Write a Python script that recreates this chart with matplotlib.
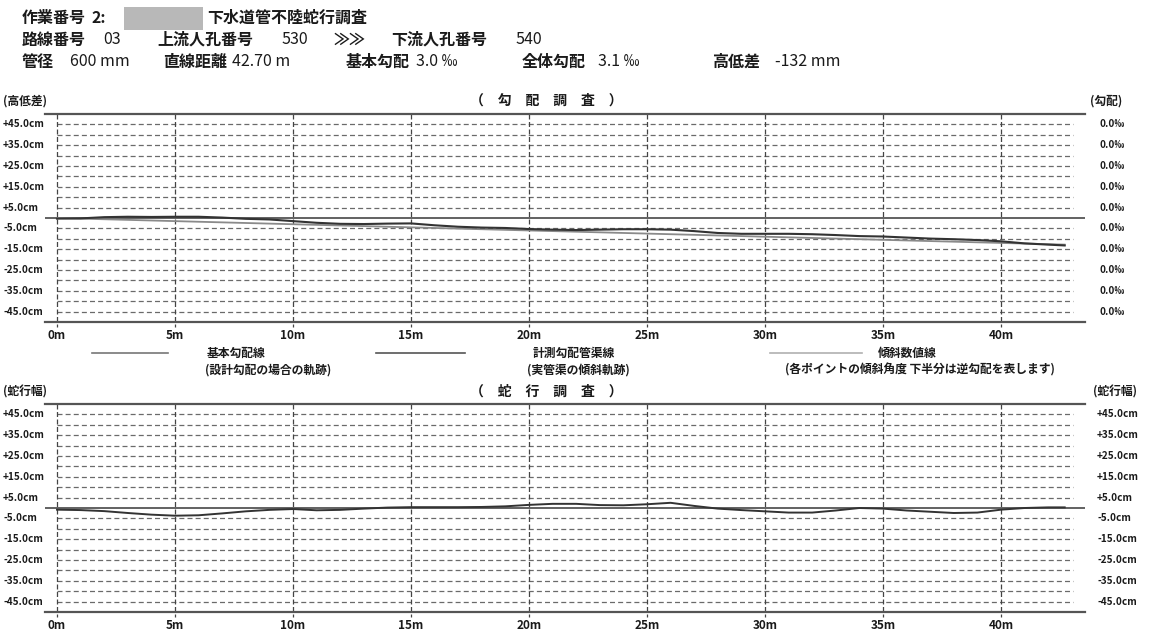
import matplotlib
matplotlib.use("Agg")
import matplotlib.pyplot as plt
from matplotlib.patches import Rectangle
from matplotlib.transforms import blended_transform_factory

plt.rcParams['font.family'] = ['Noto Sans CJK JP', 'DejaVu Sans']

# ---------------- data ----------------
x_ticks = [0, 5, 10, 15, 20, 25, 30, 35, 40]
x_tick_labels = ['0m', '5m', '10m', '15m', '20m', '25m', '30m', '35m', '40m']
y_label_vals = [45, 35, 25, 15, 5, -5, -15, -25, -35, -45]
y_labels_cm = ['+45.0cm', '+35.0cm', '+25.0cm', '+15.0cm', '+5.0cm',
               '-5.0cm', '-15.0cm', '-25.0cm', '-35.0cm', '-45.0cm']
slope_labels = ['0.0‰'] * 10
grid_y = [45, 40, 35, 30, 25, 20, 15, 10, 5, -5, -10, -15, -20, -25, -30, -35, -40, -45]

# design gradient line (3.0 permil over 42.70 m)
design_x = [0, 42.7]
design_y = [0.0, -12.8]

# measured pipe line (elevation difference, cm)
dist = [0, 1, 2, 3, 4, 5, 6, 7, 8, 9, 10, 11, 12, 13, 14, 15, 16, 17, 18, 19, 20,
        21, 22, 23, 24, 25, 26, 27, 28, 29, 30, 31, 32, 33, 34, 35, 36, 37, 38,
        39, 40, 41, 42, 42.7]
measured_elev = [-0.3, -0.2, 0.4, 0.6, 0.5, 0.6, 0.6, 0.2, -0.4, -0.7, -1.5, -2.3,
                 -2.8, -2.9, -2.7, -2.6, -3.5, -4.2, -4.6, -4.8, -5.3, -5.6, -5.8,
                 -5.6, -5.4, -5.4, -5.6, -6.3, -7.2, -7.6, -7.6, -7.6, -7.8, -8.2,
                 -8.7, -8.9, -9.4, -9.9, -10.2, -10.6, -11.2, -12.2, -12.8, -13.2]

# meander width (cm)
meander = [-0.8, -1.0, -1.5, -2.4, -3.2, -3.7, -3.5, -2.6, -1.6, -0.9, -0.5, -1.1,
           -0.9, -0.3, 0.2, 0.4, 0.4, 0.4, 0.5, 0.8, 1.5, 2.0, 2.0, 1.4, 1.3, 1.8,
           2.5, 1.0, -0.3, -1.0, -1.6, -2.2, -2.2, -1.2, 0.0, -0.3, -1.2, -1.8,
           -2.4, -2.2, -0.8, 0.0, 0.3, 0.3]

# ---------------- figure ----------------
W, H = 1150, 635
fig = plt.figure(figsize=(W / 100, H / 100), dpi=100)
TXT = '#1a1a1a'
GRID = '#6a6a6a'
AXL = '#555555'


def fx(px):
    return px / W


def fy(py):
    return 1 - py / H


def ftext(px, py, s, size=11.5, ha='left', weight='bold', **kw):
    fig.text(fx(px), fy(py), s, fontsize=size, ha=ha, va='center',
             fontweight=weight, color=TXT, **kw)


# header
ftext(22, 18, '作業番号')
ftext(92, 18, '2:')
fig.patches.append(Rectangle((fx(124), fy(30)), fx(203) - fx(124), fy(7) - fy(30),
                             transform=fig.transFigure, facecolor='#b8b8b8',
                             edgecolor='none'))
ftext(207, 18, '下水道管不陸蛇行調査')

ftext(22, 40, '路線番号')
ftext(103, 40, '03', weight='normal')
ftext(157, 40, '上流人孔番号')
ftext(281, 40, '530', weight='normal')
ftext(333, 40, '≫≫')
ftext(391, 40, '下流人孔番号')
ftext(516, 40, '540', weight='normal')

ftext(22, 62, '管径')
ftext(70, 62, '600 mm', weight='normal')
ftext(163, 62, '直線距離')
ftext(232, 62, '42.70 m', weight='normal')
ftext(346, 62, '基本勾配')
ftext(416, 62, '3.0 ‰', weight='normal')
ftext(522, 62, '全体勾配')
ftext(598, 62, '3.1 ‰', weight='normal')
ftext(712, 62, '高低差')
ftext(775, 62, '-132 mm', weight='normal')


def make_axes(top_px, bottom_px):
    ax = fig.add_axes([fx(45), fy(bottom_px), fx(1085) - fx(45), fy(top_px) - fy(bottom_px)])
    ax.set_xlim(-0.508, 43.56)
    ax.set_ylim(-50, 50)
    for s in ['left', 'right']:
        ax.spines[s].set_visible(False)
    for s in ['top', 'bottom']:
        ax.spines[s].set_color(AXL)
        ax.spines[s].set_linewidth(1.6)
    ax.set_yticks([])
    ax.set_xticks(x_ticks)
    ax.set_xticklabels(x_tick_labels, fontsize=8.5, fontweight='bold', color=TXT)
    ax.tick_params(axis='x', length=0, pad=5)
    # dashed grid
    for g in grid_y:
        ax.plot([0, 43.05], [g, g], color=GRID, lw=0.9, ls=(0, (4, 2.5)), zorder=1)
    for t in x_ticks:
        ax.plot([t, t], [50, -52.5], color='#444444', lw=0.9, ls=(0, (4, 2)),
                zorder=1, clip_on=False)
    ax.axhline(0, color=AXL, lw=1.3, zorder=2)
    return ax


def side_labels(ax, left, right, right_x):
    tr_l = blended_transform_factory(fig.transFigure, ax.transData)
    for v, l, r in zip(y_label_vals, left, right):
        ax.text(fx(3), v, l, transform=tr_l, fontsize=7.2, fontweight='bold',
                ha='left', va='center', color=TXT)
        ax.text(fx(right_x), v, r, transform=tr_l, fontsize=7.2, fontweight='bold',
                ha='left', va='center', color=TXT)


# ---- top chart: gradient survey ----
ax1 = make_axes(114, 322)
ax1.plot(design_x, design_y, color='#8a8a8a', lw=1.3, zorder=3)
ax1.plot(dist, measured_elev, color='#333333', lw=1.5, zorder=4)
side_labels(ax1, y_labels_cm, slope_labels, 1100)
ftext(3, 101, '(高低差)', size=8.5)
ftext(546, 101, '（　勾　配　調　査　）', size=10, ha='center')
ftext(1090, 101, '(勾配)', size=8.5)

# legend row
for (x0, x1, col, t1, tx1, t2, tx2) in [
        (92, 168, '#777777', '基本勾配線', 207, '(設計勾配の場合の軌跡)', 205),
        (376, 465, '#555555', '計測勾配管渠線', 533, '(実管渠の傾斜軌跡)', 527),
        (770, 862, '#b0b0b0', '傾斜数値線', 878, '(各ポイントの傾斜角度 下半分は逆勾配を表します)', 785)]:
    fig.add_artist(plt.Line2D([fx(x0), fx(x1)], [fy(353), fy(353)], color=col, lw=1.2,
                              transform=fig.transFigure))
    ftext(tx1, 353, t1, size=8.5)
    ftext(tx2, 370, t2, size=8.5)

# ---- bottom chart: meander survey ----
ax2 = make_axes(404, 612)
ax2.plot(dist, meander, color='#333333', lw=1.4, zorder=4)
side_labels(ax2, y_labels_cm, y_labels_cm, 1097)
ftext(3, 392, '(蛇行幅)', size=8.5)
ftext(546, 392, '（　蛇　行　調　査　）', size=10, ha='center')
ftext(1093, 392, '(蛇行幅)', size=8.5)

fig.savefig('out.png', dpi=100, facecolor='white')
